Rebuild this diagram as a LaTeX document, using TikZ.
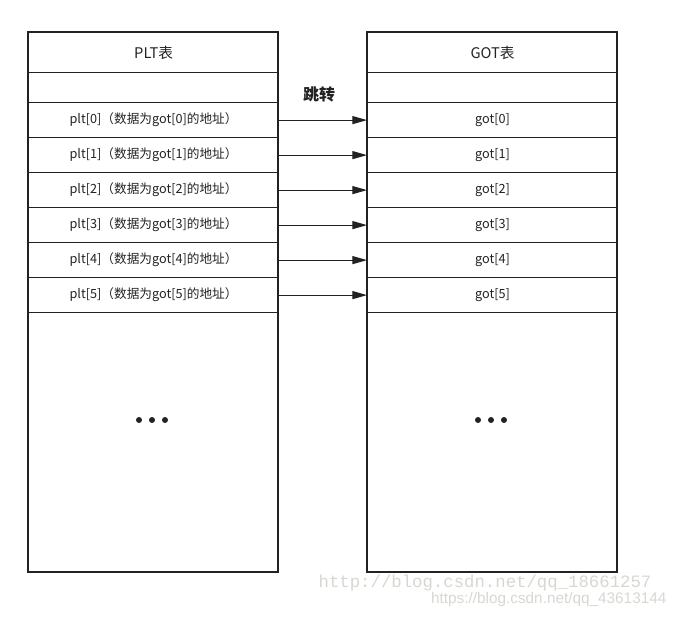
\documentclass[tikz,border=0pt]{standalone}
\usepackage{fontspec}
\setmainfont{Noto Sans CJK SC}
\newfontfamily\wmserif{Liberation Mono}
\newfontfamily\wmsans{Liberation Sans}
\usetikzlibrary{arrows.meta}
\definecolor{lineD}{RGB}{34, 34, 34}
\definecolor{markG}{RGB}{215, 215, 210}

\begin{document}
\begin{tikzpicture}[x=0.75pt, y=-0.75pt, line width=0.9pt,
  cellbox/.style={draw=lineD, minimum width=187.5pt, minimum height=26.25pt, inner sep=0pt,
    anchor=north west, font=\fontsize{9.5}{11}\selectfont, text=lineD},
  dotmark/.style={circle, fill=lineD, inner sep=0pt, minimum size=4.5pt}]
  \useasboundingbox (0,0) rectangle (676,618);

  % outer columns
  \draw[lineD] (28,32) rectangle (278,572);
  \draw[lineD] (367,32) rectangle (617,572);

  \node[cellbox, minimum height=30pt, font=\fontsize{11}{13}\selectfont] (pltH) at (28,32) {PLT表};
  \node[cellbox, minimum height=30pt, font=\fontsize{11}{13}\selectfont] (gotH) at (367,32) {GOT表};
  \node[cellbox, minimum height=22.5pt] (pltE) at (28,72) {};
  \node[cellbox, minimum height=22.5pt] (gotE) at (367,72) {};

  \foreach \i in {0,...,5} {
    \node[cellbox] (plt\i) at (28,102+35*\i) {plt[\i]（数据为got[\i]的地址）};
    \node[cellbox] (got\i) at (367,102+35*\i) {got[\i]};
    \draw[lineD, -{Triangle[length=11pt, width=6pt]}] (plt\i.east) -- (got\i.west);
  }

  \node[font=\bfseries\fontsize{12}{14}\selectfont, text=lineD] (jump) at (319,94) {跳转};

  \foreach \k in {-1,0,1} {
    \node[dotmark] (pltDot\k) at (152+13*\k,420) {};
    \node[dotmark] (gotDot\k) at (491+13*\k,420) {};
  }

  % watermarks
  \node[anchor=west, text=markG, font=\wmserif\fontsize{13}{15}\selectfont, inner sep=0pt] (wm1) at (318,583) {http://blog.csdn.net/qq\_18661257};
  \node[anchor=east, text=markG, font=\wmsans\fontsize{11.5}{13}\selectfont, inner sep=0pt] (wm2) at (667,600) {https://blog.csdn.net/qq\_43613144};
\end{tikzpicture}
\end{document}
